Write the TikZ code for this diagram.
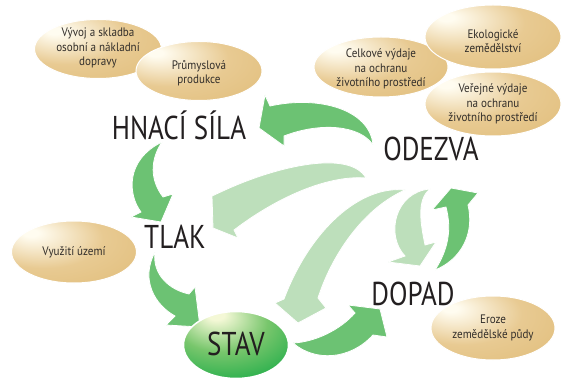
\documentclass[tikz,border=0pt]{standalone}
\usepackage{fontspec}
\usetikzlibrary{shapes.geometric}
\newfontfamily\labfont[FakeStretch=0.82]{PT Sans}
\newfontfamily\elfont[FakeStretch=0.9]{PT Sans}
\definecolor{elltan}{RGB}{232,202,146}
\definecolor{elldark}{RGB}{224,188,120}
\definecolor{ellhi}{RGB}{255,252,240}
\definecolor{stavhi}{RGB}{244,248,214}
\definecolor{stavmid}{RGB}{120,198,108}
\definecolor{stavgreen}{RGB}{30,172,72}
\definecolor{darkg}{RGB}{108,194,115}
\definecolor{lightg}{RGB}{189,223,187}
\definecolor{txtgray}{RGB}{50,46,42}
\definecolor{labblack}{RGB}{35,31,32}
\pgfdeclareradialshading{tanshade}{\pgfpoint{-18bp}{16bp}}{color(0bp)=(ellhi); color(3bp)=(ellhi); color(24bp)=(elltan); color(48bp)=(elldark); color(75bp)=(elldark)}
\pgfdeclareradialshading{greenshade}{\pgfpoint{-10bp}{24bp}}{color(0bp)=(stavhi); color(4bp)=(stavhi); color(22bp)=(stavmid); color(42bp)=(stavgreen); color(75bp)=(stavgreen)}
\begin{document}
\begin{tikzpicture}[x=1pt,y=-1pt,
  dark/.style={fill=darkg, draw=white, line width=0.8pt},
  light/.style={fill=lightg, draw=white, line width=0.8pt},
  elli/.style={ellipse, draw=white, line width=1pt, shading=tanshade, inner sep=0pt},
  etext/.style={font=\elfont\fontsize{12.3}{14.4}\selectfont, text=txtgray, align=center, inner sep=0pt},
  biglab/.style={font=\labfont\fontsize{33}{36}\selectfont, text=labblack, anchor=base, inner sep=0pt}]
\useasboundingbox[fill=white] (0,0) rectangle (564,379);

% light arrows
\fill[light] (366,178) .. controls (350,150) and (280,165) .. (225,190) -- (212,196) -- (213,228) -- (238,238) -- (234,230) .. controls (280,195) and (330,175) .. (366,178) -- cycle;
\fill[light] (405,190) .. controls (360,185) and (310,230) .. (284,299) -- (275,303) -- (298,323) -- (326,308) -- (318,298) .. controls (330,260) and (360,210) .. (405,190) -- cycle;
\fill[light] (430,189) .. controls (395,192) and (385,235) .. (405,256) -- (388,262) -- (420,266) -- (436,242) -- (425,245) .. controls (421,225) and (416,200) .. (430,189) -- cycle;

% dark arrows
\fill[dark] (373,145) .. controls (370,110) and (320,95) .. (270,106) -- (265,95) -- (259,128) -- (284,146) -- (284,136) .. controls (320,122) and (360,125) .. (373,145) -- cycle;
\fill[dark] (162,142) .. controls (150,160) and (150,180) .. (163,197) -- (173,194) -- (161,222) -- (131,217) -- (141,212) .. controls (128,195) and (125,160) .. (162,142) -- cycle;
\fill[dark] (155,252) .. controls (152,275) and (170,290) .. (189,294) -- (195,287) -- (200,327) -- (166,325) -- (175,316) .. controls (155,305) and (140,280) .. (155,252) -- cycle;
\fill[dark] (293,343) .. controls (315,362) and (350,360) .. (373,335) -- (387,337) -- (380,309) -- (348,305) -- (355,313) .. controls (340,330) and (315,342) .. (293,343) -- cycle;
\fill[dark] (435,270) .. controls (460,260) and (475,235) .. (468,205) -- (478,193) -- (451,188) -- (432,210) -- (446,207) .. controls (452,230) and (448,250) .. (435,270) -- cycle;

% ellipses
\node[elli, minimum width=127pt, minimum height=59pt] (e1) at (98,49) {};
\node[elli, minimum width=126pt, minimum height=59pt] (e2) at (199,71) {};
\node[elli, minimum width=134pt, minimum height=60pt] (e3) at (381,67) {};
\node[elli, minimum width=136pt, minimum height=64pt] (e4) at (493,37) {};
\node[elli, minimum width=136pt, minimum height=64pt] (e5) at (493,104) {};
\node[elli, minimum width=125pt, minimum height=62pt] (e6) at (74,252) {};
\node[elli, minimum width=124pt, minimum height=64pt] (e7) at (493,328) {};

\node[etext] (t1) at (98,48) {Vývoj a skladba\\osobní a nákladní\\dopravy};
\node[etext] (t2) at (199,73) {Průmyslová\\produkce};
\node[etext] (t3) at (381,69) {Celkové výdaje\\na ochranu\\životního prostředí};
\node[etext] (t4) at (493,41) {Ekologické\\zemědělství};
\node[etext] (t5) at (493,104) {Veřejné výdaje\\na ochranu\\životního prostředí};
\node[etext] (t6) at (74,252) {Využití území};
\node[etext] (t7) at (493,328) {Eroze\\zemědělské půdy};

\node[ellipse, minimum width=105pt, minimum height=67pt, inner sep=0pt, shading=greenshade, draw=white, line width=1.5pt] (se) at (236,345) {};

% labels
\node[biglab] (hs) at (179,140) {HNACÍ SÍLA};
\node[biglab] (od) at (431,161) {ODEZVA};
\node[biglab] (tl) at (175,248) {TLAK};
\node[biglab] (dp) at (413,305) {DOPAD};
\node[biglab] (st) at (236,355) {STAV};
\end{tikzpicture}
\end{document}
